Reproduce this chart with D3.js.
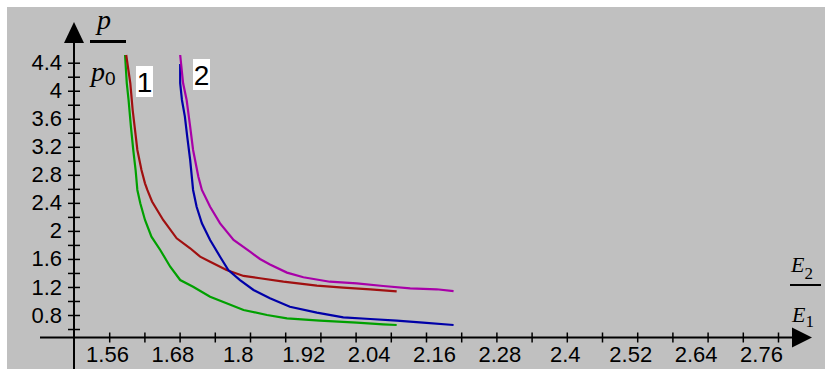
<!DOCTYPE html>
<html>
<head>
<meta charset="UTF-8" />
<title>p/p0 vs E2/E1</title>
<script src="https://cdn.jsdelivr.net/npm/d3@7"></script>
<style>
	body { margin: 0; background: #fff; }
	svg text { font-family: "Liberation Sans", Arial, sans-serif; fill: #000; }
</style>
</head>
<body>
<svg id="vis" width="825" height="369"></svg>
<script>
	// tick labels
	var xLabels = ["1.56", "1.68", "1.8", "1.92", "2.04", "2.16", "2.28", "2.4", "2.52", "2.64", "2.76"];
	var yLabels = [0.8, 1.2, 1.6, 2, 2.4, 2.8, 3.2, 3.6, 4, 4.4];

	// curve 1 (green = lower, red = upper), values [E2/E1, p/p0]
	var curve1Green = [
		[1.587, 4.51], [1.590, 4.106], [1.593, 3.868], [1.597, 3.487], [1.601, 3.155],
		[1.605, 2.869], [1.608, 2.584], [1.613, 2.394], [1.621, 2.156], [1.632, 1.917],
		[1.647, 1.728], [1.664, 1.489], [1.681, 1.299], [1.703, 1.204], [1.732, 1.061],
		[1.760, 0.967], [1.789, 0.871], [1.829, 0.800], [1.863, 0.753], [1.919, 0.719],
		[1.982, 0.690], [2.027, 0.667], [2.050, 0.657]
	];
	var curve1Red = [
		[1.589, 4.51], [1.596, 4.106], [1.600, 3.725], [1.604, 3.44], [1.608, 3.155],
		[1.615, 2.87], [1.621, 2.679], [1.625, 2.584], [1.633, 2.42], [1.652, 2.156],
		[1.675, 1.894], [1.698, 1.752], [1.715, 1.632], [1.732, 1.561], [1.760, 1.442],
		[1.789, 1.357], [1.817, 1.324], [1.857, 1.275], [1.914, 1.218], [1.959, 1.19],
		[2.005, 1.167], [2.050, 1.138]
	];
	// curve 2 (blue = lower, magenta = upper)
	var curve2Blue = [
		[1.681, 4.382], [1.681, 4.106], [1.684, 3.868], [1.689, 3.63], [1.693, 3.344],
		[1.698, 3.012], [1.703, 2.584], [1.709, 2.345], [1.718, 2.108], [1.732, 1.87],
		[1.749, 1.632], [1.763, 1.442], [1.783, 1.299], [1.806, 1.157], [1.834, 1.038],
		[1.868, 0.918], [1.914, 0.833], [1.959, 0.767], [2.005, 0.743], [2.050, 0.719],
		[2.095, 0.690], [2.147, 0.657]
	];
	var curve2Magenta = [
		[1.681, 4.51], [1.686, 4.106], [1.692, 3.868], [1.698, 3.487], [1.703, 3.155],
		[1.712, 2.773], [1.718, 2.584], [1.732, 2.345], [1.749, 2.108], [1.772, 1.87],
		[1.800, 1.703], [1.817, 1.599], [1.834, 1.52], [1.863, 1.405], [1.891, 1.338],
		[1.936, 1.275], [1.982, 1.252], [2.027, 1.214], [2.073, 1.181], [2.118, 1.167],
		[2.147, 1.142]
	];

	var svg = d3.select("#vis");

	// fond gris
	svg.append("rect")
		.attr("x", 7).attr("y", 7)
		.attr("width", 825).attr("height", 369)
		.attr("fill", "#c0c0c0");

	// Echelles
	var scaleX = d3.scaleLinear().domain([1.5, 2.7]).range([74, 778]);
	var scaleY = d3.scaleLinear().domain([0.8, 4.4]).range([315, 62.7]);
	// the old program spreads its x labels a bit tighter than its ticks
	var labelX = d3.scalePoint().domain(xLabels).range([107, 761]);

	// Courbes
	var line = d3.line()
		.x(function (d) { return scaleX(d[0]); })
		.y(function (d) { return scaleY(d[1]); });

	var curves = [
		{ pts: curve1Green, color: "#00a000" },
		{ pts: curve1Red, color: "#a01010" },
		{ pts: curve2Blue, color: "#0000a8" },
		{ pts: curve2Magenta, color: "#a800a8" }
	];
	curves.forEach(function (c) {
		svg.append("path")
			.attr("d", line(c.pts))
			.attr("fill", "none")
			.attr("stroke", c.color)
			.attr("stroke-width", 2.2);
	});

	// Axes : lignes + fleches
	svg.append("line")
		.attr("x1", 74).attr("x2", 74)
		.attr("y1", 40).attr("y2", 369)
		.attr("stroke", "#000").attr("stroke-width", 2);
	svg.append("line")
		.attr("x1", 40).attr("x2", 796)
		.attr("y1", 337.5).attr("y2", 337.5)
		.attr("stroke", "#000").attr("stroke-width", 2);
	svg.append("path")
		.attr("d", "M74,22 L64,43 L84,43 Z")
		.attr("fill", "#000");
	svg.append("path")
		.attr("d", "M812,337.5 L792,327.5 L792,347.5 Z")
		.attr("fill", "#000");

	// graduations X (traversent l'axe)
	var gxTicks = svg.append("g").attr("transform", "translate(0,342.5)");
	gxTicks.call(d3.axisTop(scaleX)
		.tickValues(d3.range(1.56, 2.705, 0.06))
		.tickSize(10).tickFormat(""));
	gxTicks.select(".domain").remove();
	gxTicks.selectAll("line").attr("stroke-width", 1.5);

	// graduations Y
	var gyTicks = svg.append("g").attr("transform", "translate(80,0)");
	gyTicks.call(d3.axisLeft(scaleY)
		.tickValues(d3.range(0.6, 4.41, 0.2))
		.tickSize(12).tickFormat(""));
	gyTicks.select(".domain").remove();
	gyTicks.selectAll("line").attr("stroke-width", 1.5);

	// libelles X
	var gxLab = svg.append("g").attr("transform", "translate(0,337)");
	gxLab.call(d3.axisBottom(labelX).tickSize(0).tickPadding(9));
	gxLab.select(".domain").remove();
	gxLab.selectAll("text").style("font-size", "22px").attr("font-family", null);

	// libelles Y
	var gyLab = svg.append("g").attr("transform", "translate(62,0)");
	gyLab.call(d3.axisLeft(scaleY).tickValues(yLabels).tickSize(0).tickPadding(0)
		.tickFormat(d3.format("")));
	gyLab.select(".domain").remove();
	gyLab.selectAll("text").style("font-size", "22px").attr("font-family", null);

	// titre axe Y : p / p0
	var serif = "'Liberation Serif', 'DejaVu Serif', serif";
	svg.append("text").attr("x", 97).attr("y", 29)
		.style("font-family", serif).style("font-style", "italic").style("font-size", "28px")
		.text("p");
	svg.append("line").attr("x1", 90).attr("x2", 126).attr("y1", 41.5).attr("y2", 41.5)
		.attr("stroke", "#000").attr("stroke-width", 3);
	var p0 = svg.append("text").attr("x", 91).attr("y", 81)
		.style("font-family", serif).style("font-style", "italic").style("font-size", "28px");
	p0.append("tspan").text("p");
	p0.append("tspan").attr("dy", 4).style("font-style", "normal")
		.style("font-family", "'Liberation Sans', sans-serif").style("font-size", "19px").text("0");

	// titre axe X : E2 / E1
	var e2 = svg.append("text").attr("x", 791).attr("y", 272)
		.style("font-family", serif).style("font-style", "italic").style("font-size", "22px");
	e2.append("tspan").text("E");
	e2.append("tspan").attr("dy", 7).style("font-style", "normal").style("font-size", "17px").text("2");
	svg.append("line").attr("x1", 790).attr("x2", 821).attr("y1", 285).attr("y2", 285)
		.attr("stroke", "#000").attr("stroke-width", 2);
	var e1 = svg.append("text").attr("x", 792).attr("y", 322)
		.style("font-family", serif).style("font-style", "italic").style("font-size", "22px");
	e1.append("tspan").text("E");
	e1.append("tspan").attr("dy", 5).style("font-style", "normal").style("font-size", "17px").text("1");

	// numeros des courbes
	[["1", 136, 66], ["2", 193, 59]].forEach(function (b) {
		svg.append("rect").attr("x", b[1]).attr("y", b[2])
			.attr("width", 17).attr("height", 31).attr("fill", "#fff");
		svg.append("text").attr("x", b[1] + 8.5).attr("y", b[2] + 26)
			.attr("text-anchor", "middle").style("font-size", "28px").text(b[0]);
	});
</script>
</body>
</html>
